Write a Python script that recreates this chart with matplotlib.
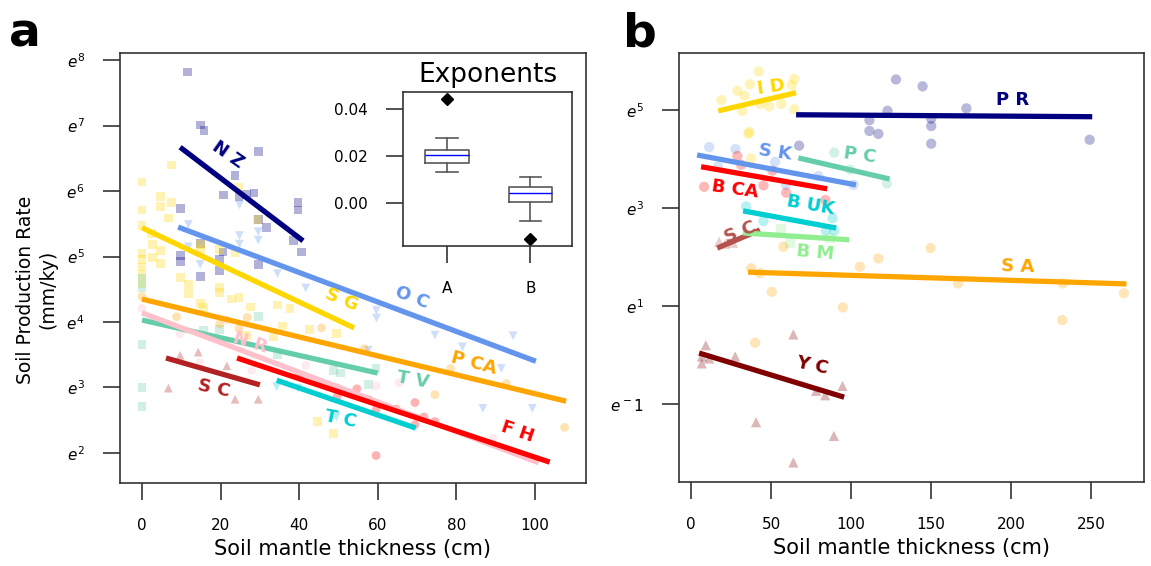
import matplotlib
matplotlib.use('Agg')
import matplotlib.pyplot as plt

# ---------------- panel a : scatter data (x in cm, y = ln rate) ----------------
nz_x = [11.6, 14.8, 15.8, 29.6, 23.7, 20.7, 24.7, 28.5, 26.6, 39.7, 39.7, 9.8,
        29.6, 31.6, 38.6, 40.6, 14.8, 20.6, 19.7, 19.7, 14.8, 9.8, 9.8, 29.6]
nz_y = [7.82, 7.01, 6.92, 6.61, 6.24, 5.94, 5.91, 5.97, 5.95, 5.83, 5.71, 5.74,
        5.57, 5.44, 5.25, 5.07, 5.20, 5.07, 4.95, 4.79, 4.70, 5.02, 4.92, 4.88]

sg_x = [7.6, 0, 4.8, 0, 4.8, 7.6, 6.7, 24.6, 29.3, 0, 2.5, 2.7, 4.8, 2.7, 4.8,
        0, 0, 0, 0, 9.7, 14.8, 14.8, 19.7, 23.7, 11.8, 11.8, 14.8, 15.6, 19.7,
        19.7, 22.8, 24.7, 27.7, 35.8, 37.7, 34.5, 42.6, 49.5, 26.6, 33.5, 44.6,
        48.7, 0]
sg_y = [6.40, 6.14, 5.92, 5.71, 5.76, 5.82, 5.59, 6.06, 5.56, 5.48, 5.35, 5.18,
        5.09, 4.99, 4.89, 5.05, 4.95, 4.84, 4.72, 4.68, 5.11, 5.19, 5.11, 5.06,
        4.57, 4.44, 4.28, 4.22, 4.53, 4.45, 4.35, 4.37, 4.23, 3.94, 4.21, 4.26,
        3.88, 3.83, 3.79, 3.77, 2.48, 2.30, 4.59]

tv_x = [0, 0, 0, 0, 0, 29.6, 15.6, 19.7, 34.5, 48.7, 50.5, 57.6, 59.6]
tv_y = [4.67, 4.53, 3.66, 3.00, 2.71, 4.09, 3.87, 3.88, 3.50, 3.26, 3.22, 3.04, 3.29]

oc_x = [11.8, 11.8, 14.8, 24.8, 24.8, 24.8, 29.6, 29.6, 34.5, 41.7, 59.7, 59.7,
        74.6, 81.6, 94.5, 91.5, 86.8, 99.4, 57.6]
oc_y = [5.49, 5.15, 4.88, 5.79, 5.32, 5.19, 5.38, 5.25, 4.74, 4.52, 4.18, 4.06,
        3.80, 3.62, 3.79, 3.29, 2.68, 2.68, 3.57]

tc_x = [34.3, 39.7, 49.5]
tc_y = [3.01, 2.99, 2.55]

pca_x = [0, 8.8, 19.8, 26.8, 24.7, 45.7, 56.6, 74.6, 78.6, 92.8, 107.6]
pca_y = [4.39, 4.08, 3.97, 4.07, 3.90, 3.91, 3.59, 2.89, 3.29, 3.06, 2.39]

nr_x = [0, 9.7, 14.8, 21.6, 27.9, 41.7, 59.6, 65.5, 89.4]
nr_y = [4.21, 3.82, 3.38, 4.03, 3.26, 3.34, 3.02, 3.07, 2.22]

fh_x = [39.9, 47.7, 49.7, 49.7, 54.7, 57.8, 59.6, 64.7, 69.5, 69.5, 59.6, 71.8, 74.6]
fh_y = [3.18, 3.01, 2.99, 2.86, 2.98, 2.81, 2.66, 2.67, 2.77, 2.43, 1.96, 2.55, 2.48]

sca_x = [9.7, 14.3, 21.6, 6.7, 23.7, 29.6]
sca_y = [3.49, 3.54, 3.33, 2.99, 2.82, 2.82]

# panel a : fitted lines (end points)
nz_fit = ([9.7, 41.0], [6.67, 5.24])
oc_fit = ([9.2, 100.3], [5.45, 3.40])
sg_fit = ([0, 54.0], [5.44, 3.91])
pca_fit = ([0, 108.0], [4.35, 2.79])
tv_fit = ([0, 60.0], [4.03, 3.22])
nr_fit = ([0, 101.0], [4.14, 1.85])
sca_fit = ([6.1, 30.0], [3.45, 3.04])
fh_fit = ([24.2, 103.8], [3.45, 1.86])
tc_fit = ([34.3, 69.7], [3.11, 2.38])

# ---------------- panel b ----------------
id_x = [42.3, 36.7, 28.9, 33.3, 18.9, 64.4, 62.9, 43.3, 48.75, 56.4, 64.4, 31.9, 36.4, 35.8, 37.5]
id_y = [5.78, 5.52, 5.39, 5.29, 5.20, 5.63, 5.50, 5.12, 5.07, 5.12, 5.01, 4.98, 4.55, 4.51, 4.01]

pr_x = [67.5, 111.4, 111.4, 117, 122.7, 128, 144.6, 150, 150, 150, 172, 249]
pr_y = [4.27, 4.79, 4.57, 4.51, 4.98, 5.62, 5.48, 4.82, 4.67, 4.31, 5.03, 4.39]

sk_x = [11.25, 27.7, 52.5, 79.6, 101.4, 16.7, 59.2]
sk_y = [4.24, 4.20, 3.94, 3.65, 3.47, 3.84, 3.47]

pc_x = [89.4, 122.3, 99.4]
pc_y = [4.13, 3.50, 3.78]

bca_x = [28.9, 31.25, 50.8, 45.2, 8.1, 59.4, 83.9]
bca_y = [4.06, 3.88, 3.76, 3.46, 3.43, 3.31, 3.16]

buk_x = [34.4, 45.2, 84.2, 89.4, 88.3]
buk_y = [3.03, 2.73, 2.53, 2.53, 2.79]

scb_x = [17.5, 26.25, 21.25]
scb_y = [2.31, 2.29, 2.27]

bm_x = [56.25, 61.9, 86.9]
bm_y = [2.57, 2.29, 2.39]

sa_x = [37.5, 43.1, 50.4, 57.7, 94.8, 105.4, 117, 149.6, 166.7, 232.3, 231.9, 270.4, 40]
sa_y = [1.77, 1.67, 1.29, 2.21, 0.97, 1.80, 1.97, 2.18, 1.46, 1.46, 0.71, 1.26, 0.25]

yc_x = [9.2, 6.7, 6.7, 11.25, 27.5, 63.9, 94.6, 83.75, 78.1, 40.6, 89.2, 63.9]
yc_y = [0.20, -0.03, -0.17, -0.07, -0.03, 0.42, -0.63, -0.82, -0.73, -1.37, -1.65, -2.19]

id_fit = ([17, 65.6], [4.98, 5.35])
pr_fit = ([65.6, 250.6], [4.90, 4.86])
sk_fit = ([3.75, 103], [4.08, 3.47])
pc_fit = ([67, 124], [4.02, 3.59])
bca_fit = ([6.25, 85], [3.84, 3.39])
buk_fit = ([32.5, 90.6], [2.94, 2.59])
scb_fit = ([16.3, 43], [2.18, 2.55])
bm_fit = ([32.5, 98.8], [2.49, 2.35])
sa_fit = ([35.6, 272], [1.69, 1.45])
yc_fit = ([5, 95.6], [0.04, -0.86])

# inset: exponent box statistics
exp_names = ['A', 'B']
exp_whislo = [0.0132, -0.0075]
exp_q1 = [0.0172, 0.0006]
exp_med = [0.0204, 0.0044]
exp_q3 = [0.0227, 0.0068]
exp_whishi = [0.0278, 0.0111]
exp_fliers = [[0.0444], [-0.0152]]

a_ticks = [2, 3, 4, 5, 6, 7, 8]
b_ticks = [-1, 1, 3, 5]
b_ticklabels = ['$e^-1$', '$e^{1}$', '$e^{3}$', '$e^{5}$']

# series: (scatter x, scatter y, marker, fit, colour, label, label x, label y, rotation)
panel_a = [
    (nz_x, nz_y, 's', nz_fit, 'navy', 'N Z', 21.9, 6.55, -35),
    (sg_x, sg_y, 's', sg_fit, 'gold', 'S G', 50.9, 4.34, -22),
    (tv_x, tv_y, 's', tv_fit, 'mediumaquamarine', 'T V', 69.0, 3.11, -10),
    (oc_x, oc_y, 'v', oc_fit, 'cornflowerblue', 'O C', 68.7, 4.38, -21),
    (pca_x, pca_y, 'o', pca_fit, 'orange', 'P CA', 84.5, 3.37, -15),
    (nr_x, nr_y, 'o', nr_fit, 'pink', 'N R', 27.5, 3.68, -18),
    (sca_x, sca_y, '^', sca_fit, 'firebrick', 'S C', 18.3, 2.98, -12),
    (fh_x, fh_y, 'o', fh_fit, 'red', 'F H', 95.7, 2.32, -19),
    (tc_x, tc_y, 'v', tc_fit, 'darkturquoise', 'T C', 50.6, 2.52, -11),
]
panel_b = [
    (id_x, id_y, 'o', id_fit, 'gold', 'I D', 50, 5.47, 8),
    (pr_x, pr_y, 'o', pr_fit, 'navy', 'P R', 201, 5.20, 0),
    (sk_x, sk_y, 'o', sk_fit, 'cornflowerblue', 'S K', 52.5, 4.14, -8),
    (pc_x, pc_y, 'o', pc_fit, 'mediumaquamarine', 'P C', 105.6, 4.08, -8),
    (bca_x, bca_y, 'o', bca_fit, 'red', 'B CA', 27.5, 3.37, -8),
    (buk_x, buk_y, 'o', buk_fit, 'darkturquoise', 'B UK', 74.4, 3.06, -10),
    (scb_x, scb_y, '^', scb_fit, '#b5524e', 'S C', 30.6, 2.51, 22),
    (bm_x, bm_y, 's', bm_fit, 'lightgreen', 'B M', 77.5, 2.08, -5),
    (sa_x, sa_y, 'o', sa_fit, 'orange', 'S A', 204, 1.80, -2),
    (yc_x, yc_y, '^', yc_fit, 'maroon', 'Y C', 75.6, -0.22, -12),
]

fig = plt.figure(figsize=(11.51, 5.66), dpi=100)
ax_a = fig.add_axes([0.1043, 0.1466, 0.4046, 0.7598])
ax_b = fig.add_axes([0.590, 0.1484, 0.404, 0.758])


def draw(ax, series, size, alpha):
    for x, y, m, fit, c, lab, lx, ly, rot in series:
        ax.scatter(x, y, marker=m, s=size, color=c, alpha=alpha,
                   edgecolors='none', zorder=2)
        ax.plot(fit[0], fit[1], color=c, lw=3.8, solid_capstyle='butt', zorder=3)
        ax.text(lx, ly, lab, color=c, fontsize=13, fontweight='bold',
                rotation=rot, ha='center', va='center', zorder=4)


def style(ax):
    for sp in ax.spines.values():
        sp.set_linewidth(1.2)
        sp.set_color('0.2')
    ax.tick_params(length=12.5, width=1.2, pad=13, labelsize=11, color='0.2')


draw(ax_a, panel_a, 40, 0.3)
ax_a.set_xlim(-5.6, 113)
ax_a.set_ylim(1.54, 8.11)
ax_a.set_xticks([0, 20, 40, 60, 80, 100])
ax_a.set_yticks(a_ticks)
ax_a.set_yticklabels(['$e^{%d}$' % t for t in a_ticks])
ax_a.set_xlabel('Soil mantle thickness (cm)', fontsize=15)
ax_a.set_ylabel('Soil Production Rate\n(mm/ky)', fontsize=13.5)
ax_a.yaxis.set_label_coords(-0.135, 0.45)
style(ax_a)

draw(ax_b, panel_b, 55, 0.28)
ax_b.set_xlim(-7.5, 283)
ax_b.set_ylim(-2.59, 6.16)
ax_b.set_xticks([0, 50, 100, 150, 200, 250])
ax_b.set_yticks(b_ticks)
ax_b.set_yticklabels(b_ticklabels)
ax_b.set_xlabel('Soil mantle thickness (cm)', fontsize=15)
style(ax_b)

# inset box plot of exponents
ax_in = fig.add_axes([0.3501, 0.5654, 0.1469, 0.2721])
stats = []
for i in range(len(exp_names)):
    stats.append(dict(label=exp_names[i], whislo=exp_whislo[i], q1=exp_q1[i],
                      med=exp_med[i], q3=exp_q3[i], whishi=exp_whishi[i],
                      fliers=exp_fliers[i]))
ax_in.bxp(stats, widths=0.52, capwidths=0.26,
          boxprops=dict(color='0.35', lw=1.2),
          whiskerprops=dict(color='0.35', lw=1.2),
          capprops=dict(color='0.35', lw=1.2),
          medianprops=dict(color='blue', lw=1),
          flierprops=dict(marker='D', markerfacecolor='black',
                          markeredgecolor='black', markersize=6))
ax_in.set_xlim(0.47, 2.5)
ax_in.set_ylim(-0.0183, 0.0472)
ax_in.set_yticks([0.0, 0.02, 0.04])
ax_in.set_yticklabels(['0.00', '0.02', '0.04'])
ax_in.set_title('Exponents', fontsize=19, pad=7)
style(ax_in)

fig.text(0.022, 0.94, 'a', fontsize=34, fontweight='bold', va='center', ha='center')
fig.text(0.556, 0.94, 'b', fontsize=34, fontweight='bold', va='center', ha='center')

fig.savefig('out.png', dpi=100)
